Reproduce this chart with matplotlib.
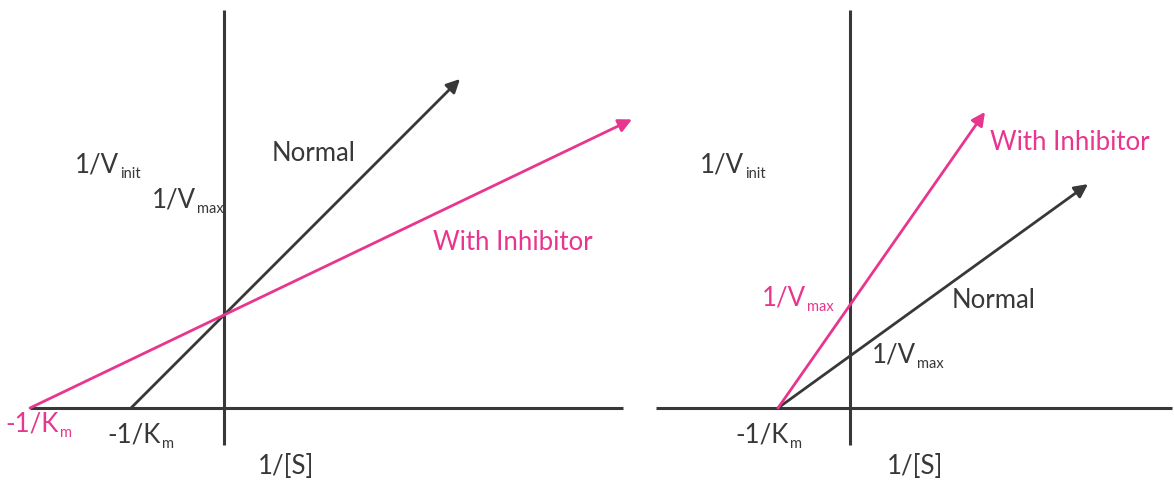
import numpy as np
import matplotlib
matplotlib.use("Agg")
from matplotlib import pyplot as plt

plt.rcParams['font.family'] = ['Lato', 'DejaVu Sans']

# 数据: 双倒数图 (Lineweaver-Burk), 顺序: Normal, With Inhibitor
series = ["Normal", "With Inhibitor"]
left_x_int = [-0.93, -1.94]    # -1/Km
left_y_int = [0.93, 0.93]      # 1/Vmax
left_x_end = [2.36, 4.08]
right_x_int = [-0.72, -0.72]
right_y_int = [0.52, 1.03]
right_x_end = [2.38, 1.35]

dark = '#383838'
pink = '#e8368f'
colors = [dark, pink]
fs = 18.5
fs_sub = 10.5

fig = plt.figure(figsize=(11.74, 4.92), dpi=100)
# 左右两个面板, 1 单位 = 100 像素
axL = fig.add_axes([0, 0, 645 / 1174, 1])
axR = fig.add_axes([645 / 1174, 0, 529 / 1174, 1])
axL.set_xlim(-2.24, 4.21)
axR.set_xlim(-2.05, 3.24)
for ax in (axL, axR):
    ax.set_ylim(-0.84, 4.08)
    ax.axis('off')


def draw_panel(ax, x_int, y_int, x_end, x_axis_start, x_axis_end):
    ax.plot([x_axis_start, x_axis_end], [0, 0], color=dark, lw=2.2, solid_capstyle='butt')
    ax.plot([0, 0], [-0.37, 3.98], color=dark, lw=2.2, solid_capstyle='butt')
    for xi, yi, xe, c in zip(x_int, y_int, x_end, colors):
        ye = yi * (1 - xe / xi)
        ax.annotate('', xy=(xe, ye), xytext=(xi, 0),
                    arrowprops=dict(arrowstyle='-|>', mutation_scale=20, lw=2,
                                    color=c, shrinkA=0, shrinkB=0))


def label(ax, x, y, main, sub=None, color=dark):
    t = ax.text(x, y, main, fontsize=fs, color=color, va='center')
    if sub:
        # 下标: 小字号, 基线略低于主文字
        ax.annotate(sub, xy=(1, 0), xycoords=t, xytext=(1, -2.5),
                    textcoords='offset points', fontsize=fs_sub, color=color,
                    va='bottom', ha='left')
    return t


draw_panel(axL, left_x_int, left_y_int, left_x_end, -1.94, 3.99)
draw_panel(axR, right_x_int, right_y_int, right_x_end, -1.94, 3.22)

# 左图文字
label(axL, -1.49, 2.43, '1/V', 'init')
label(axL, -0.72, 2.08, '1/V', 'max')
label(axL, 0.48, 2.55, 'Normal')
label(axL, 2.09, 1.65, 'With Inhibitor', color=pink)
label(axL, -2.19, -0.16, '-1/K', 'm', color=pink)
label(axL, -1.17, -0.27, '-1/K', 'm')
label(axL, 0.34, -0.59, '1/[S]')

# 右图文字
label(axR, -1.50, 2.43, '1/V', 'init')
label(axR, 1.40, 2.65, 'With Inhibitor', color=pink)
label(axR, 1.02, 1.08, 'Normal')
label(axR, -0.88, 1.10, '1/V', 'max', color=pink)
label(axR, 0.22, 0.53, '1/V', 'max')
label(axR, -1.15, -0.27, '-1/K', 'm')
label(axR, 0.37, -0.59, '1/[S]')

fig.savefig('out.png', dpi=100)
